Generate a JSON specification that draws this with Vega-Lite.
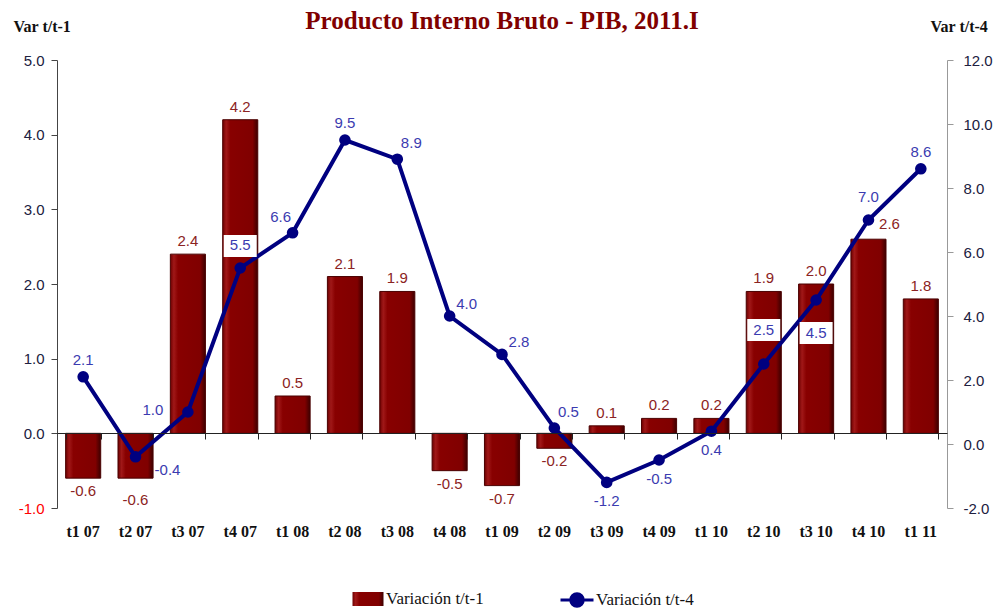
{
  "$schema": "https://vega.github.io/schema/vega-lite/v6.json",
  "width": 890,
  "height": 448,
  "autosize": {"type": "none"},
  "padding": {"left": 57, "top": 60, "right": 50, "bottom": 101},
  "background": "white",
  "title": {
    "text": "Producto Interno Bruto - PIB, 2011.I",
    "font": "Liberation Serif",
    "fontSize": 25,
    "fontWeight": "bold",
    "color": "#800000",
    "anchor": "middle",
    "baseline": "alphabetic",
    "offset": -36
  },
  "data": {
    "values": [
      {"q": "t1 07", "v1": -0.6, "v4": 2.1},
      {"q": "t2 07", "v1": -0.6, "v4": -0.4},
      {"q": "t3 07", "v1": 2.4, "v4": 1.0},
      {"q": "t4 07", "v1": 4.2, "v4": 5.5},
      {"q": "t1 08", "v1": 0.5, "v4": 6.6},
      {"q": "t2 08", "v1": 2.1, "v4": 9.5},
      {"q": "t3 08", "v1": 1.9, "v4": 8.9},
      {"q": "t4 08", "v1": -0.5, "v4": 4.0},
      {"q": "t1 09", "v1": -0.7, "v4": 2.8},
      {"q": "t2 09", "v1": -0.2, "v4": 0.5},
      {"q": "t3 09", "v1": 0.1, "v4": -1.2},
      {"q": "t4 09", "v1": 0.2, "v4": -0.5},
      {"q": "t1 10", "v1": 0.2, "v4": 0.4},
      {"q": "t2 10", "v1": 1.9, "v4": 2.5},
      {"q": "t3 10", "v1": 2.0, "v4": 4.5},
      {"q": "t4 10", "v1": 2.6, "v4": 7.0},
      {"q": "t1 11", "v1": 1.8, "v4": 8.6}
    ]
  },
  "layer": [
    {
      "encoding": {
        "x": {
          "field": "q", "type": "nominal", "sort": null,
          "scale": {"paddingInner": 0.33, "paddingOuter": 0.165},
          "axis": {
            "orient": "bottom", "title": null, "domain": false, "ticks": false,
            "labelAngle": 0, "labelFont": "Liberation Serif", "labelFontSize": 16,
            "labelFontWeight": "bold", "labelColor": "#111111", "labelPadding": 15,
            "labelBaseline": "top"
          }
        },
        "y": {
          "field": "v1", "type": "quantitative",
          "scale": {"domain": [-1, 5], "nice": false, "zero": false},
          "axis": {
            "orient": "left", "title": "Var t/t-1", "titleAngle": 0,
            "titleX": -44, "titleY": -29, "titleAlign": "left", "titleBaseline": "alphabetic",
            "titleFont": "Liberation Serif", "titleFontSize": 16, "titleFontWeight": "bold",
            "titleColor": "#111111",
            "values": [-1, 0, 1, 2, 3, 4, 5], "format": ".1f", "grid": false,
            "domainColor": "#444444", "tickColor": "#444444", "tickSize": 6, "labelPadding": 7,
            "labelFont": "Liberation Sans", "labelFontSize": 15,
            "labelColor": {"condition": {"test": "datum.value < 0", "value": "#ff0000"}, "value": "#202040"}
          }
        }
      },
      "layer": [
        {
          "mark": {
            "type": "bar", "stroke": "#4a0000", "strokeWidth": 1,
            "fill": {"gradient": "linear", "x1": 0, "y1": 0, "x2": 1, "y2": 0,
              "stops": [
                {"offset": 0, "color": "#6e0000"},
                {"offset": 0.1, "color": "#a01818"},
                {"offset": 0.22, "color": "#880000"},
                {"offset": 0.85, "color": "#800000"},
                {"offset": 1, "color": "#3c0000"}
              ]}
          },
          "encoding": {
            "opacity": {
              "datum": "Variación t/t-1", "type": "ordinal",
              "scale": {"range": [1]},
              "legend": {
                "orient": "none", "legendX": 295, "legendY": 523, "title": null,
                "symbolType": "M-1,-0.45L1,-0.45L1,0.45L-1,0.45Z", "symbolSize": 961,
                "symbolFillColor": "#8b0000", "symbolStrokeColor": "#4a0000",
                "symbolStrokeWidth": 1, "labelOffset": 2, "padding": 0,
                "labelFont": "Liberation Serif", "labelFontSize": 17
              }
            }
          }
        },
        {
          "transform": [{"filter": "datum.v1 >= 0 && datum.q != 't4 10'"}],
          "mark": {"type": "text", "dy": -13, "font": "Liberation Sans", "fontSize": 15, "color": "#8b2323"},
          "encoding": {"text": {"field": "v1", "format": ".1f"}}
        },
        {
          "transform": [{"filter": "datum.q == 't4 10'"}],
          "mark": {"type": "text", "dy": -15, "dx": 21, "font": "Liberation Sans", "fontSize": 15, "color": "#8b2323"},
          "encoding": {"text": {"field": "v1", "format": ".1f"}}
        },
        {
          "transform": [{"filter": "datum.v1 < 0 && datum.q != 't2 07'"}],
          "mark": {"type": "text", "dy": 13, "font": "Liberation Sans", "fontSize": 15, "color": "#8b2323"},
          "encoding": {"text": {"field": "v1", "format": ".1f"}}
        },
        {
          "transform": [{"filter": "datum.q == 't2 07'"}],
          "mark": {"type": "text", "dy": 22, "font": "Liberation Sans", "fontSize": 15, "color": "#8b2323"},
          "encoding": {"text": {"field": "v1", "format": ".1f"}}
        }
      ]
    },
    {
      "encoding": {
        "x": {
          "field": "q", "type": "nominal", "sort": null,
          "axis": {
            "orient": "bottom", "offset": -75, "labels": false, "title": null,
            "tickBand": "extent", "domain": true, "domainColor": "#222222",
            "tickColor": "#222222", "tickSize": 6, "ticks": true, "zindex": 1
          }
        },
        "y": {
          "field": "v4", "type": "quantitative",
          "scale": {"domain": [-2, 12], "nice": false, "zero": false},
          "axis": {
            "orient": "right", "title": "Var t/t-4", "titleAngle": 0,
            "titleX": -17, "titleY": -29, "titleAlign": "left", "titleBaseline": "alphabetic",
            "titleFont": "Liberation Serif", "titleFontSize": 16, "titleFontWeight": "bold",
            "titleColor": "#111111",
            "values": [-2, 0, 2, 4, 6, 8, 10, 12], "format": ".1f", "grid": false,
            "domainColor": "#999999", "tickColor": "#999999", "tickSize": 6, "labelPadding": 10,
            "labelFont": "Liberation Sans", "labelFontSize": 15, "labelColor": "#202040"
          }
        }
      },
      "layer": [
        {
          "mark": {"type": "line", "strokeWidth": 4},
          "encoding": {
            "stroke": {
              "datum": "Variación t/t-4", "type": "nominal",
              "scale": {"range": ["#000080"]},
              "legend": {
                "orient": "none", "legendX": 502, "legendY": 522, "title": null,
                "symbolType": "M-1,0L1,0M0.38,0A0.38,0.38,0,1,1,-0.38,0A0.38,0.38,0,1,1,0.38,0",
                "symbolSize": 1089, "symbolStrokeWidth": 3, "symbolFillColor": "#000080",
                "labelOffset": 1, "padding": 0,
                "labelFont": "Liberation Serif", "labelFontSize": 17
              }
            }
          }
        },
        {
          "mark": {"type": "point", "filled": true, "size": 135, "color": "#000080", "opacity": 1}
        },
        {
          "transform": [{"filter": {"field": "q", "equal": "t4 07"}}],
          "mark": {"type": "point", "filled": true, "shape": "M-1,-2L1,-2L1,-0.667L-1,-0.667Z", "size": 1089, "color": "white", "opacity": 1}
        },
        {
          "transform": [{"filter": {"field": "q", "equal": "t2 10"}}],
          "mark": {"type": "point", "filled": true, "shape": "M-1,-2.73L1,-2.73L1,-1.39L-1,-1.39Z", "size": 1089, "color": "white", "opacity": 1}
        },
        {
          "transform": [{"filter": {"field": "q", "equal": "t3 10"}}],
          "mark": {"type": "point", "filled": true, "shape": "M-1,1.33L1,1.33L1,2.67L-1,2.67Z", "size": 1089, "color": "white", "opacity": 1}
        },
        {
          "transform": [{"filter": {"field": "q", "oneOf": ["t1 07", "t2 08", "t1 11"]}}],
          "mark": {"type": "text", "dy": -17, "font": "Liberation Sans", "fontSize": 15, "color": "#3b3bb0"},
          "encoding": {"text": {"field": "v4", "format": ".1f"}}
        },
        {
          "transform": [{"filter": {"field": "q", "oneOf": ["t4 07", "t4 10"]}}],
          "mark": {"type": "text", "dy": -23, "font": "Liberation Sans", "fontSize": 15, "color": "#3b3bb0"},
          "encoding": {"text": {"field": "v4", "format": ".1f"}}
        },
        {
          "transform": [{"filter": {"field": "q", "equal": "t1 08"}}],
          "mark": {"type": "text", "dx": -12, "dy": -16, "font": "Liberation Sans", "fontSize": 15, "color": "#3b3bb0"},
          "encoding": {"text": {"field": "v4", "format": ".1f"}}
        },
        {
          "transform": [{"filter": {"field": "q", "oneOf": ["t3 08", "t2 09"]}}],
          "mark": {"type": "text", "dx": 14, "dy": -16, "font": "Liberation Sans", "fontSize": 15, "color": "#3b3bb0"},
          "encoding": {"text": {"field": "v4", "format": ".1f"}}
        },
        {
          "transform": [{"filter": {"field": "q", "oneOf": ["t4 08", "t1 09"]}}],
          "mark": {"type": "text", "dx": 17, "dy": -12, "font": "Liberation Sans", "fontSize": 15, "color": "#3b3bb0"},
          "encoding": {"text": {"field": "v4", "format": ".1f"}}
        },
        {
          "transform": [{"filter": {"field": "q", "equal": "t2 07"}}],
          "mark": {"type": "text", "dx": 32, "dy": 13, "font": "Liberation Sans", "fontSize": 15, "color": "#3b3bb0"},
          "encoding": {"text": {"field": "v4", "format": ".1f"}}
        },
        {
          "transform": [{"filter": {"field": "q", "equal": "t3 07"}}],
          "mark": {"type": "text", "dx": -35, "dy": -2, "font": "Liberation Sans", "fontSize": 15, "color": "#3b3bb0"},
          "encoding": {"text": {"field": "v4", "format": ".1f"}}
        },
        {
          "transform": [{"filter": {"field": "q", "oneOf": ["t3 09", "t4 09", "t1 10"]}}],
          "mark": {"type": "text", "dy": 19, "font": "Liberation Sans", "fontSize": 15, "color": "#3b3bb0"},
          "encoding": {"text": {"field": "v4", "format": ".1f"}}
        },
        {
          "transform": [{"filter": {"field": "q", "equal": "t2 10"}}],
          "mark": {"type": "text", "dy": -34, "font": "Liberation Sans", "fontSize": 15, "color": "#3b3bb0"},
          "encoding": {"text": {"field": "v4", "format": ".1f"}}
        },
        {
          "transform": [{"filter": {"field": "q", "equal": "t3 10"}}],
          "mark": {"type": "text", "dy": 33, "font": "Liberation Sans", "fontSize": 15, "color": "#3b3bb0"},
          "encoding": {"text": {"field": "v4", "format": ".1f"}}
        }
      ]
    }
  ],
  "resolve": {"scale": {"y": "independent"}, "axis": {"x": "independent"}},
  "config": {
    "view": {"stroke": null},
    "style": {"guide-label": {"font": "Liberation Serif", "fontSize": 17, "fill": "#111111"}},
    "legend": {"labelFont": "Liberation Serif", "labelFontSize": 17, "labelColor": "#111111", "labelLimit": 300},
    "locale": {"number": {"decimal": ".", "thousands": ",", "grouping": [3], "currency": ["$", ""], "minus": "-"}}
  }
}
